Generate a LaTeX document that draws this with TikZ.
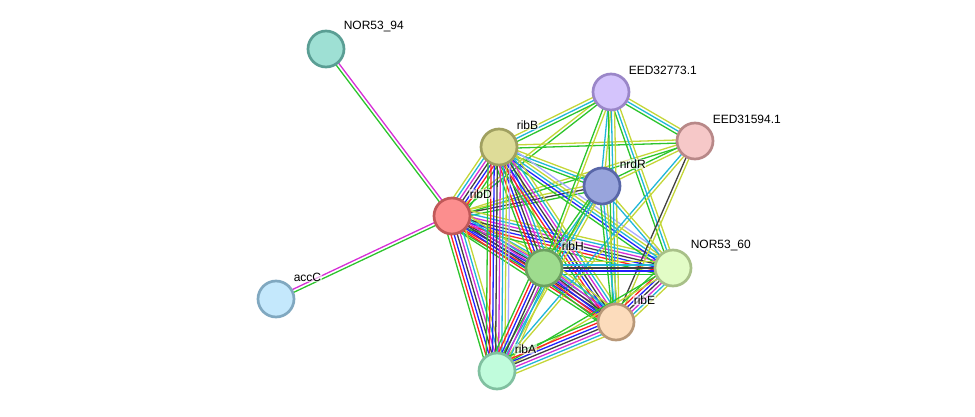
\documentclass[tikz,border=0pt]{standalone}
\usepackage{fontspec}
\setmainfont{Liberation Sans}
\usetikzlibrary{calc, backgrounds}

% evidence channel colours
\definecolor{neighb}{RGB}{44,196,44}
\definecolor{fusion}{RGB}{255,34,34}
\definecolor{cooccur}{RGB}{34,34,255}
\definecolor{coexp}{RGB}{64,64,64}
\definecolor{exper}{RGB}{214,46,214}
\definecolor{dbase}{RGB}{32,182,216}
\definecolor{txtmine}{RGB}{196,214,56}
\definecolor{homol}{RGB}{170,170,255}

% one bundle of parallel evidence lines between two proteins
\newcommand{\bundle}[3]{%
  \foreach \c [count=\k] in {#3} {\xdef\bundlesize{\k}}%
  \foreach \c [count=\k] in {#3} {%
    \pgfmathsetmacro\off{(\k-(\bundlesize+1)/2)*3.1}%
    \draw[edge, draw=\c] ($(#1)!\off pt!90:(#2)$) -- ($(#2)!\off pt!-90:(#1)$);
  }%
}

\begin{document}
\begin{tikzpicture}[
    x=1pt, y=-1pt,
    prot/.style={circle, draw, line width=2.7pt, minimum size=36pt, inner sep=0pt},
    lbl/.style={anchor=west, font=\fontsize{12}{14}\selectfont, fill=white,
                fill opacity=0.6, text opacity=1, inner sep=0.6pt},
    edge/.style={line width=1.3pt},
]
\useasboundingbox (0,0) rectangle (975,417);

% ---- Proteins ----
\node[prot, fill={rgb,255:red,158;green,224;blue,212}, draw={rgb,255:red,90;green,158;blue,148}] (nor94) at (326, 49) {};
\node[prot, fill={rgb,255:red,212;green,196;blue,252}, draw={rgb,255:red,154;green,134;blue,200}] (eed73) at (611, 92) {};
\node[prot, fill={rgb,255:red,246;green,200;blue,200}, draw={rgb,255:red,184;green,136;blue,136}] (eed94) at (695, 141) {};
\node[prot, fill={rgb,255:red,222;green,220;blue,152}, draw={rgb,255:red,160;green,160;blue,96}] (ribB) at (499, 147) {};
\node[prot, fill={rgb,255:red,152;green,164;blue,220}, draw={rgb,255:red,88;green,102;blue,168}] (nrdR) at (602, 186) {};
\node[prot, fill={rgb,255:red,252;green,142;blue,142}, draw={rgb,255:red,192;green,88;blue,88}] (ribD) at (452, 216) {};
\node[prot, fill={rgb,255:red,158;green,220;blue,142}, draw={rgb,255:red,108;green,160;blue,96}] (ribH) at (544, 268) {};
\node[prot, fill={rgb,255:red,226;green,252;blue,198}, draw={rgb,255:red,168;green,192;blue,136}] (nor60) at (673, 268) {};
\node[prot, fill={rgb,255:red,196;green,232;blue,252}, draw={rgb,255:red,128;green,168;blue,192}] (accC) at (276, 299) {};
\node[prot, fill={rgb,255:red,252;green,220;blue,188}, draw={rgb,255:red,184;green,152;blue,120}] (ribE) at (616, 322) {};
\node[prot, fill={rgb,255:red,192;green,252;blue,220}, draw={rgb,255:red,128;green,192;blue,160}] (ribA) at (497, 371) {};

% ---- Labels ----
\node[lbl] (nor94-lbl) at ($(nor94)+(17,-22)$) {NOR53\_94};
\node[lbl] (eed73-lbl) at ($(eed73)+(17,-22)$) {EED32773.1};
\node[lbl] (eed94-lbl) at ($(eed94)+(17,-22)$) {EED31594.1};
\node[lbl] (ribB-lbl) at ($(ribB)+(17,-22)$) {ribB};
\node[lbl] (nrdR-lbl) at ($(nrdR)+(17,-22)$) {nrdR};
\node[lbl] (ribD-lbl) at ($(ribD)+(17,-22)$) {ribD};
\node[lbl] (ribH-lbl) at ($(ribH)+(17,-22)$) {ribH};
\node[lbl] (nor60-lbl) at ($(nor60)+(17,-22)$) {NOR53\_60};
\node[lbl] (accC-lbl) at ($(accC)+(17,-22)$) {accC};
\node[lbl] (ribE-lbl) at ($(ribE)+(17,-22)$) {ribE};
\node[lbl] (ribA-lbl) at ($(ribA)+(17,-22)$) {ribA};

% ---- Evidence bundles ----
\begin{scope}[on background layer]
\bundle{ribD}{nor94}{exper,neighb}
\bundle{ribD}{accC}{exper,neighb}
\bundle{ribD}{eed73}{neighb,txtmine}
\bundle{ribD}{eed94}{neighb,txtmine}
\bundle{ribD}{nrdR}{neighb,coexp,txtmine}
\bundle{ribD}{ribB}{neighb,fusion,cooccur,coexp,exper,dbase,txtmine}
\bundle{ribD}{ribH}{neighb,fusion,cooccur,coexp,exper,dbase,txtmine}
\bundle{ribD}{nor60}{neighb,fusion,cooccur,coexp,exper,dbase,txtmine}
\bundle{ribD}{ribE}{neighb,fusion,cooccur,coexp,exper,dbase,txtmine}
\bundle{ribD}{ribA}{neighb,fusion,cooccur,coexp,exper,dbase,txtmine}

\bundle{ribB}{eed73}{neighb,dbase,txtmine}
\bundle{ribB}{eed94}{neighb,txtmine}
\bundle{ribB}{nrdR}{neighb,dbase,txtmine}
\bundle{ribB}{ribH}{neighb,fusion,cooccur,coexp,exper,dbase,txtmine}
\bundle{ribB}{nor60}{neighb,cooccur,dbase,txtmine,homol}
\bundle{ribB}{ribE}{neighb,fusion,cooccur,coexp,exper,dbase,txtmine}
\bundle{ribB}{ribA}{neighb,fusion,cooccur,coexp,exper,dbase,txtmine,homol}

\bundle{eed73}{eed94}{neighb,dbase,txtmine}
\bundle{eed73}{nrdR}{dbase,txtmine}
\bundle{eed73}{ribH}{neighb,txtmine}
\bundle{eed73}{nor60}{neighb,dbase,txtmine}
\bundle{eed73}{ribE}{neighb,dbase,txtmine}

\bundle{eed94}{nrdR}{neighb,txtmine}
\bundle{eed94}{ribE}{coexp,txtmine}
\bundle{eed94}{ribA}{dbase,txtmine}

\bundle{nrdR}{ribH}{neighb,dbase,txtmine}
\bundle{nrdR}{nor60}{dbase,txtmine}
\bundle{nrdR}{ribE}{neighb,dbase,txtmine}
\bundle{nrdR}{ribA}{neighb,dbase,txtmine}

\bundle{ribH}{nor60}{neighb,cooccur,coexp,dbase,txtmine}
\bundle{ribH}{ribE}{neighb,fusion,cooccur,coexp,exper,dbase,txtmine}
\bundle{ribH}{ribA}{neighb,fusion,cooccur,coexp,exper,dbase,txtmine}
\bundle{nor60}{ribE}{neighb,fusion,cooccur,coexp,exper,dbase,txtmine}
\bundle{nor60}{ribA}{neighb,txtmine}
\bundle{ribE}{ribA}{neighb,fusion,cooccur,coexp,exper,dbase,txtmine}
\end{scope}

\end{tikzpicture}
\end{document}
